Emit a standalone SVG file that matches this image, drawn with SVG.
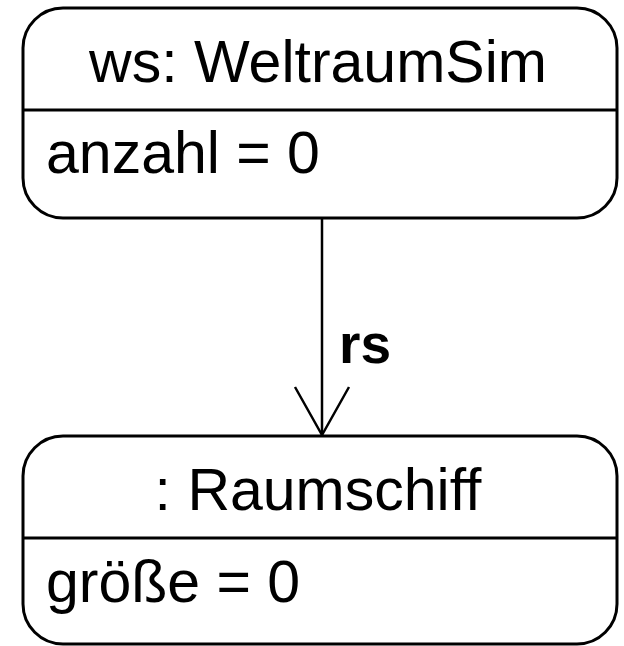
<svg xmlns="http://www.w3.org/2000/svg" width="624" height="646" viewBox="0 0 624 646">
<style>
.box{fill:#fff;stroke:#000;stroke-width:3}
.div{stroke:#000;stroke-width:3}
.t{font-family:"Liberation Sans",Arial,sans-serif;font-size:59px;fill:#000}
.c{text-anchor:middle}
.edge{stroke:#000;stroke-width:2.5;fill:none}
.lbl{font-family:"Liberation Sans",Arial,sans-serif;font-size:55px;font-weight:bold;fill:#000}
</style>
<rect width="624" height="646" fill="#fff"/>
<g id="connectors">
<line class="edge" x1="322" y1="218" x2="322" y2="436"/>
<polyline class="edge" points="295,387 322,435 349,387"/>
<text class="lbl" x="339" y="363">rs</text>
</g>
<g id="ws">
<rect class="box" x="23" y="8" width="594" height="210" rx="40" ry="40"/>
<line class="div" x1="23" y1="110" x2="617" y2="110"/>
<text class="t c" x="318" y="82">ws: WeltraumSim</text>
<text class="t" x="46" y="173">anzahl = 0</text>
</g>
<g id="raumschiff">
<rect class="box" x="23" y="436" width="594" height="208" rx="40" ry="40"/>
<line class="div" x1="23" y1="538" x2="617" y2="538"/>
<text class="t c" x="318" y="510">: Raumschiff</text>
<text class="t" x="46" y="602">größe = 0</text>
</g>
</svg>
